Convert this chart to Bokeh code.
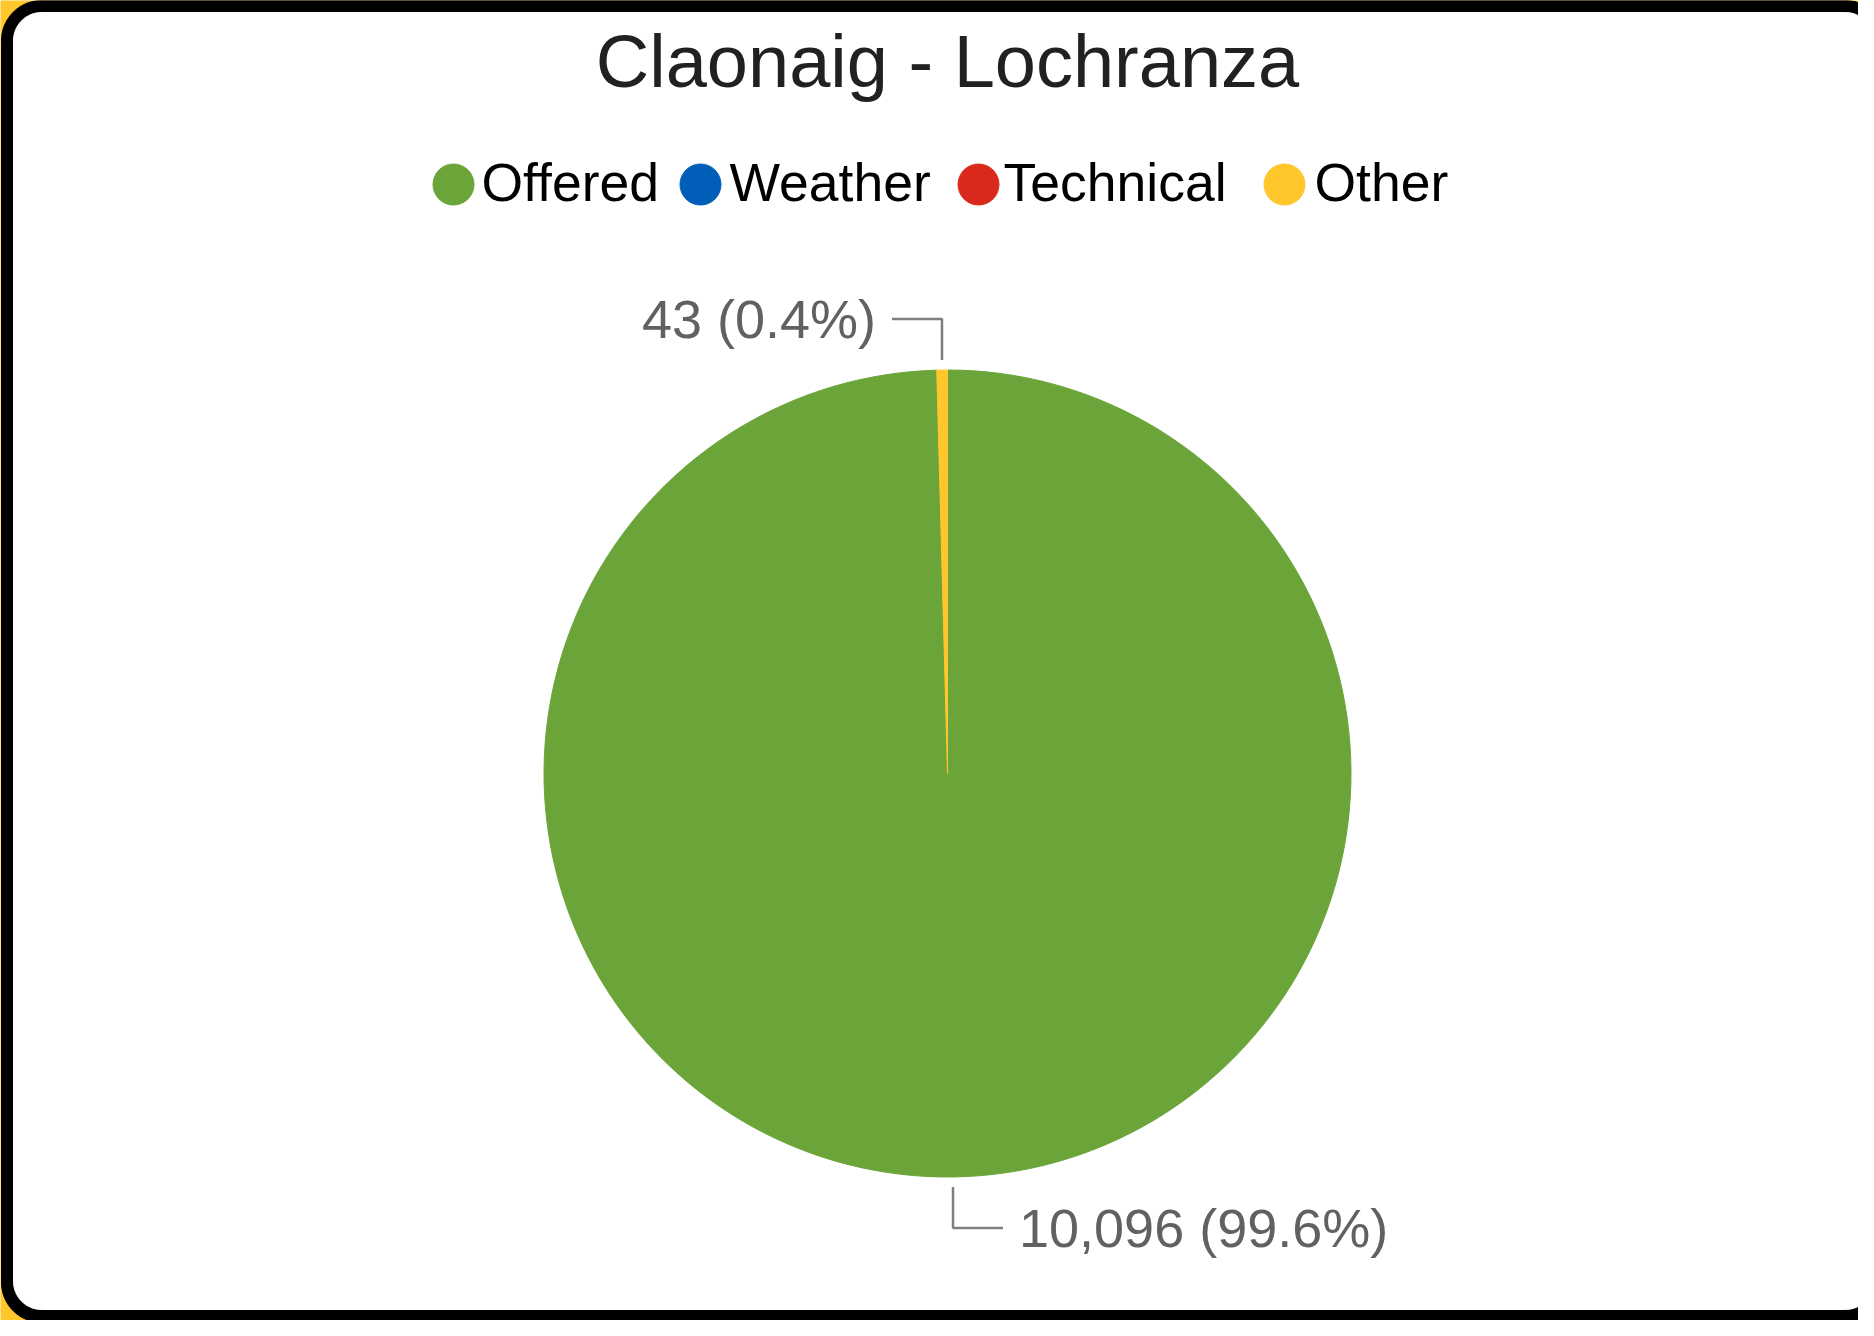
import numpy as np
from bokeh.plotting import figure
from bokeh.models import ColumnDataSource, Range1d
from bokeh.core.properties import value
from bokeh.embed import file_html
from bokeh.resources import INLINE

# ---------------- data ----------------
chart_title = "Claonaig - Lochranza"
categories = ["Offered", "Weather", "Technical", "Other"]
counts = [10096, 0, 0, 43]
colors = ["#6BA539", "#005EB8", "#DA291C", "#FFC72C"]

# ---------------- layout (screen px -> plot units) ----------------
W, H = 1858, 1320
def X(sx):
    return sx
def Y(sy):
    return H - sy

FONT = value("Liberation Sans")
CX, CY, R = X(947), Y(773), 403.5

# empirical baseline correction (fraction of font size)
BASE_FIX = 0.35

p = figure(width=W, height=H, x_range=Range1d(0, W), y_range=Range1d(0, H),
           output_backend="svg", toolbar_location=None, min_border=0,
           x_axis_location=None, y_axis_location=None)
p.grid.visible = False
p.outline_line_color = None
p.background_fill_color = "#FFC72C"
p.border_fill_color = "#FFC72C"


def rounded(x0, y0, x1, y1, r, n=24):
    xs, ys = [], []
    for cx, cy, a0 in [(x1 - r, y1 - r, 0), (x0 + r, y1 - r, 90),
                       (x0 + r, y0 + r, 180), (x1 - r, y0 + r, 270)]:
        t = np.radians(np.linspace(a0, a0 + 90, n))
        xs += list(cx + r * np.cos(t))
        ys += list(cy + r * np.sin(t))
    return xs, ys

ox, oy = rounded(X(1), Y(1322), X(1885), Y(0), 40)
p.patch(ox, oy, fill_color="black", line_color="black")
ix, iy = rounded(X(13), Y(1309), X(1873), Y(12), 28)
p.patch(ix, iy, fill_color="white", line_color="white")

# ---------------- title ----------------
p.text(x=[CX], y=[Y(87) + BASE_FIX * 74], text=[chart_title], text_font=FONT,
       text_font_size="74px", text_color="#212121", text_align="center",
       text_baseline="alphabetic")

# ---------------- legend ----------------
leg_circle_x = [X(453), X(700), X(978), X(1284)]
leg_text_x = [X(481), X(729), X(1003), X(1314)]
p.scatter(x=leg_circle_x, y=[Y(184)] * 4, size=41, color=colors, marker="circle")
p.text(x=leg_text_x, y=[Y(201) + BASE_FIX * 53.5] * 4, text=categories, text_font=FONT,
       text_font_size="53.5px", text_color="black", text_align="left",
       text_baseline="alphabetic")

# ---------------- pie ----------------
vals = np.array(counts, dtype=float)
total = vals.sum()
frac = vals / total
cum = np.concatenate([[0.0], np.cumsum(frac)])
start = np.pi / 2 - 2 * np.pi * cum[:-1]
end = np.pi / 2 - 2 * np.pi * cum[1:]
keep = frac > 0

src = ColumnDataSource(dict(
    start=list(start[keep]), end=list(end[keep]),
    color=[c for c, k in zip(colors, keep) if k],
))
p.wedge(x=CX, y=CY, radius=R, start_angle="start", end_angle="end",
        direction="clock", fill_color="color", line_color="color",
        line_width=1, source=src)

# ---------------- slice labels with leader lines ----------------
LSIZE = 54
lxs, lys, tx, ty, tt, ta = [], [], [], [], [], []
for v, f, s, e, k in zip(counts, frac, start, end, keep):
    if not k:
        continue
    mid = (s + e) / 2
    cs, sn = np.cos(mid), np.sin(mid)
    x0 = CX + (R + 10) * cs
    y0 = CY + (R + 10) * sn
    vdir = 1 if sn > 0 else -1
    hdir = 1 if cs > 0 else -1
    y1 = y0 + 41 * vdir
    x2 = x0 + 50 * hdir
    lxs.append([x0, x0, x2])
    lys.append([y0, y1, y1])
    tx.append(x2 + 16 * hdir)
    ty.append(y1 - 19 + BASE_FIX * LSIZE)
    tt.append(f"{v:,} ({100 * f:.1f}%)")
    ta.append("left" if hdir > 0 else "right")

p.multi_line(xs=lxs, ys=lys, line_color="#7F7F7F", line_width=2.5)
p.text(x=tx, y=ty, text=tt, text_align=ta, text_font=FONT,
       text_font_size=f"{LSIZE}px", text_color="#616161", text_baseline="alphabetic")

open("out.html", "w").write(file_html(p, INLINE))
